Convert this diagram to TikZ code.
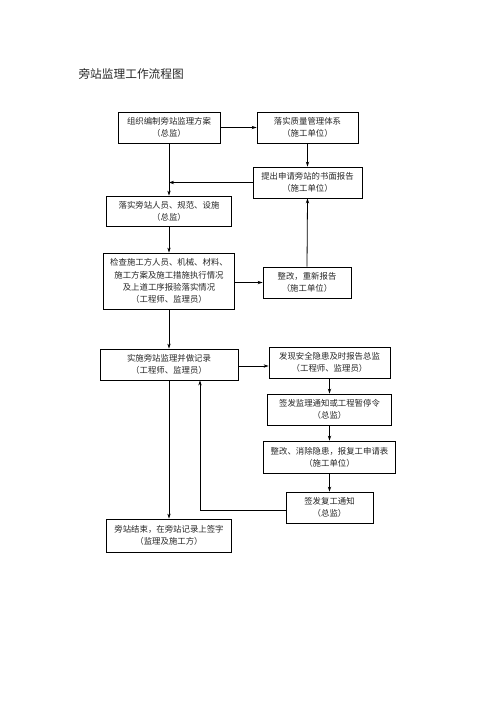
\documentclass[tikz,border=0pt]{standalone}
\usepackage{fontspec}
\setmainfont{Noto Sans CJK SC}
\usetikzlibrary{calc}
\usetikzlibrary{arrows.meta}

\begin{document}
\begin{tikzpicture}[x=1pt, y=-1pt]
\pgfmathsetmacro{\boxheight}{31}
\pgfmathsetmacro{\linewidth}{0.8}
\pgfmathsetmacro{\rightcol}{329.5}

\tikzset{
  stage/.style={draw, line width=\linewidth pt, align=center, inner sep=0pt, minimum height=\boxheight, text=black!85, font=\fontsize{8.4}{12.2}\selectfont},
  flow/.style={-{Stealth[length=5pt, width=3.4pt]}, line width=\linewidth pt}
}

\useasboundingbox (0, 0) rectangle (500, 707);

\node (title) at (75, 74) [anchor=west, text=black!85, font=\fontsize{11.7}{14}\selectfont] {旁站监理工作流程图};

\node (plan) at (169, 127.5) [stage, minimum width=102] {组织编制旁站监理方案\\（总监）};
\node (quality) at (307.5, 127.5) [stage, minimum width=101] {落实质量管理体系\\（施工单位）};
\node (apply) at (307.5, 182.5) [stage, minimum width=109] {提出申请旁站的书面报告\\（施工单位）};
\node (staff) at (169, 211) [stage, minimum width=125, minimum height=30] {落实旁站人员、规范、设施\\（总监）};
\node (check) at (169, 281) [stage, minimum width=131, minimum height=56] {检查施工方人员、机械、材料、\\施工方案及施工措施执行情况\\及上道工序报验落实情况\\（工程师、监理员）};
\node (rework) at (307, 282.5) [stage, minimum width=88] {整改，重新报告\\（施工单位）};
\node (record) at (169, 364.5) [stage, minimum width=138] {实施旁站监理并做记录\\（工程师、监理员）};
\node (hazard) at (\rightcol, 362.5) [stage, minimum width=121] {发现安全隐患及时报告总监\\（工程师、监理员）};
\node (notice) at (\rightcol, 409.5) [stage, minimum width=124] {签发监理通知或工程暂停令\\（总监）};
\node (remove) at (\rightcol, 457) [stage, minimum width=132, minimum height=32] {整改、消除隐患，报复工申请表\\（施工单位）};
\node (resume) at (\rightcol, 507.5) [stage, minimum width=87] {签发复工通知\\（总监）};
\node (finish) at (169, 535.5) [stage, minimum width=125, minimum height=33] {旁站结束，在旁站记录上签字\\（监理及施工方）};

\coordinate (apply_join) at (apply.west -| plan.south);
\coordinate (back_turn) at (200, 510);
\coordinate (back_end) at (back_turn |- record.south);

\draw [flow] (plan.east) -- (quality.west);
\draw [flow] (plan.south) -- (staff.north);
\draw [flow] (quality.south) -- (apply.north);
\draw [flow] (apply.west) -- (apply_join);
\draw [flow] (staff.south) -- (check.north);
\draw [flow] (check.east |- rework.west) -- (rework.west);
\draw [flow] (rework.north) -- (apply.south);
\draw [flow] (check.south) -- (record.north);
\draw [flow] ($(record.east) + (0, 1.5)$) -- ($(record.east -| hazard.west) + (0, 1.5)$);
\draw [flow] (hazard.south) -- (notice.north);
\draw [flow] (notice.south) -- (remove.north);
\draw [flow] (remove.south) -- (resume.north);
\draw [flow] (resume.west |- back_turn) -- (back_turn) -- (back_end);
\draw [flow] (record.south) -- (finish.north);
\end{tikzpicture}
\end{document}
